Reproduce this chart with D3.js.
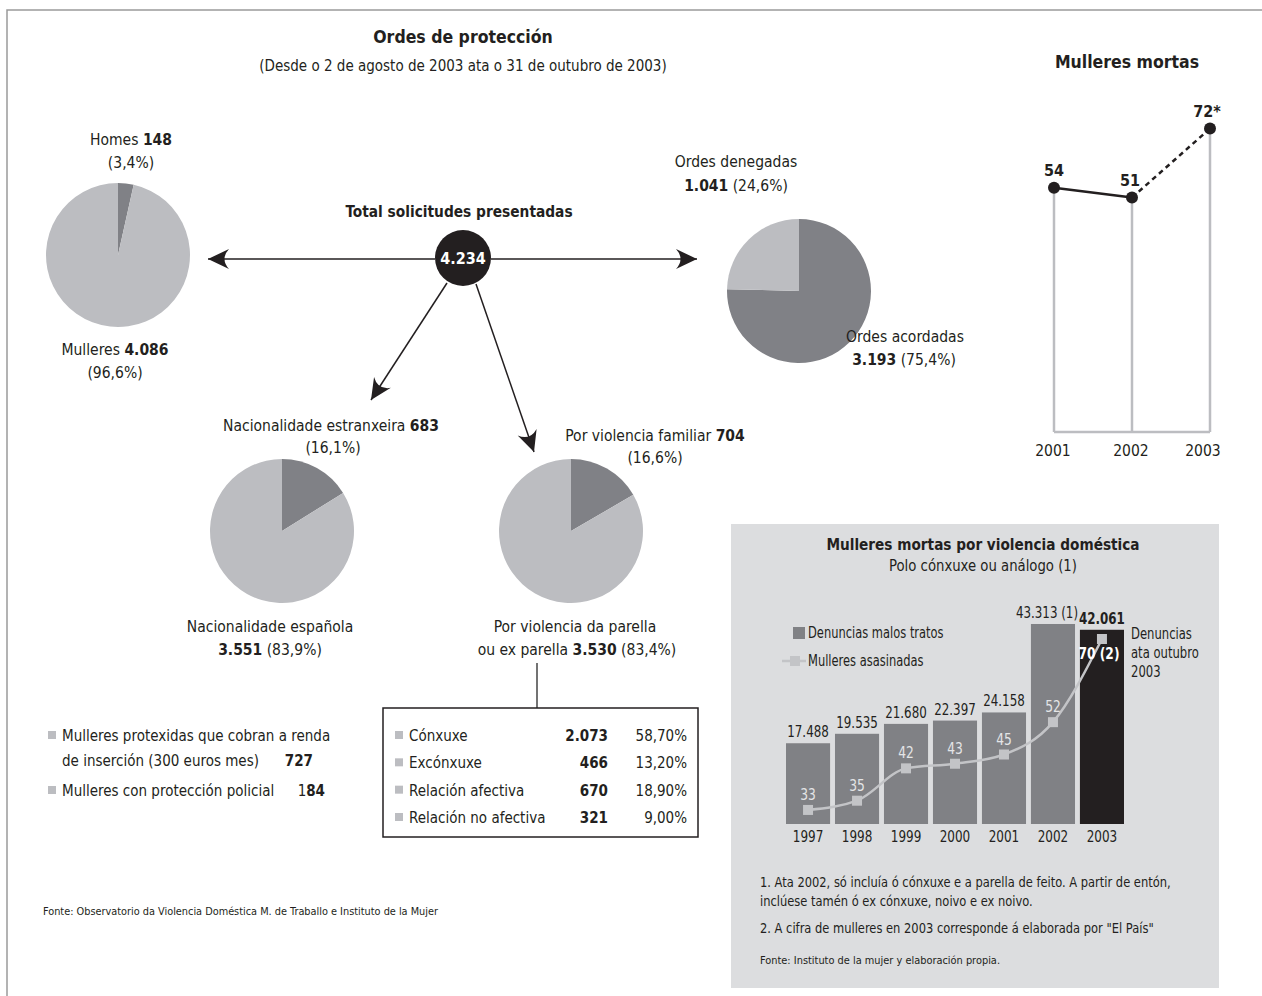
<!DOCTYPE html>
<html>
<head>
<meta charset="utf-8">
<script src="https://cdn.jsdelivr.net/npm/d3@7"></script>
<style>
  body { margin: 0; background: #fff; }
  svg text { font-family: "Liberation Sans Narrow", "DejaVu Sans Condensed", sans-serif; fill: #231f20; }
</style>
</head>
<body>
<div id="chart"></div>
<script>
// --- data ---
const totalSolicitudes = 4234;
const sexoLabels = ["Homes", "Mulleres"];
const sexoValues = [148, 4086];
const sexoPct = ["3,4%", "96,6%"];
const ordesLabels = ["Ordes acordadas", "Ordes denegadas"];
const ordesValues = [3193, 1041];
const ordesPct = ["75,4%", "24,6%"];
const nacLabels = ["Nacionalidade estranxeira", "Nacionalidade española"];
const nacValues = [683, 3551];
const nacPct = ["16,1%", "83,9%"];
const violLabels = ["Por violencia familiar", "Por violencia da parella ou ex parella"];
const violValues = [704, 3530];
const violPct = ["16,6%", "83,4%"];
const relacionLabels = ["Cónxuxe", "Excónxuxe", "Relación afectiva", "Relación no afectiva"];
const relacionValues = [2073, 466, 670, 321];
const relacionPct = ["58,70%", "13,20%", "18,90%", "9,00%"];
const rendaInsercion = 727;
const proteccionPolicial = 184;
const mortasYears = ["2001", "2002", "2003"];
const mortasValues = [54, 51, 72];
const denunciaYears = ["1997", "1998", "1999", "2000", "2001", "2002", "2003"];
const denunciaValues = [17488, 19535, 21680, 22397, 24158, 43313, 42061];
const asasinadasValues = [33, 35, 42, 43, 45, 52, 70];

const width = 1262, height = 996;
const ink = "#231f20", pieDark = "#808186", pieLight = "#bcbdc1", lineGray = "#c3c4c7";
const fmt = d3.formatLocale({decimal: ",", thousands: ".", grouping: [3], currency: ["", ""]}).format(",d");

const svg = d3.select("#chart").append("svg")
    .attr("width", width)
    .attr("height", height);

// rich text helper: parts = [[string, bold], ...]
function rich(g, x, y, parts, anchor = "middle", size = 15.5) {
    const t = g.append("text")
        .attr("x", x).attr("y", y)
        .attr("text-anchor", anchor)
        .attr("font-size", size);
    parts.forEach(([s, b]) => t.append("tspan").attr("font-weight", b ? "bold" : null).text(s));
    return t;
}
// narrow the glyphs a bit, the original uses a condensed face
function squeeze(sel, k) {
    sel.each(function() {
        const len = this.getComputedTextLength();
        d3.select(this).attr("textLength", len * k).attr("lengthAdjust", "spacingAndGlyphs");
    });
    return sel;
}

// frame
svg.append("path")
    .attr("d", "M7,996 V10 H1262")
    .attr("fill", "none")
    .attr("stroke", "#9a9a9a")
    .attr("stroke-width", 1.5);

// titles
rich(svg, 463, 43, [["Ordes de protección", true]], "middle", 17.5);
rich(svg, 463, 71, [["(Desde o 2 de agosto de 2003 ata o 31 de outubro de 2003)"]], "middle", 15);
rich(svg, 1127, 68, [["Mulleres mortas", true]], "middle", 17.5);

// arrows
svg.append("defs").append("marker")
    .attr("id", "arrow")
    .attr("viewBox", "-22 -11 24 22")
    .attr("refX", 0).attr("refY", 0)
    .attr("markerWidth", 24).attr("markerHeight", 22)
    .attr("markerUnits", "userSpaceOnUse")
    .attr("orient", "auto")
    .append("path")
    .attr("d", "M0,0 L-21,-10 Q-12,0 -21,10 Z")
    .attr("fill", ink);

[[435, 259, 208, 259], [491, 259, 697, 259], [447, 283, 371, 400], [476, 284, 534, 452]].forEach(a => {
    svg.append("line")
        .attr("x1", a[0]).attr("y1", a[1]).attr("x2", a[2]).attr("y2", a[3])
        .attr("stroke", ink).attr("stroke-width", 1.5)
        .attr("marker-end", "url(#arrow)");
});

rich(svg, 459, 217, [["Total solicitudes presentadas", true]], "middle", 15.3);
svg.append("circle").attr("cx", 463).attr("cy", 258).attr("r", 28).attr("fill", ink);
rich(svg, 463, 264, [[fmt(totalSolicitudes), true]], "middle", 16).style("fill", "#fff");

// pies
const pie = d3.pie().sort(null);
const arc = d3.arc().innerRadius(0).outerRadius(72);
function drawPie(cx, cy, values) {
    svg.append("g")
        .attr("transform", `translate(${cx},${cy})`)
        .selectAll("path")
        .data(pie(values))
        .join("path")
        .attr("d", arc)
        .attr("fill", (d, i) => i === 0 ? pieDark : pieLight);
}
drawPie(118, 255, sexoValues);
drawPie(799, 291, ordesValues);
drawPie(282, 531, nacValues);
drawPie(571, 531, violValues);

// pie labels
rich(svg, 131, 145, [[sexoLabels[0] + " "], [fmt(sexoValues[0]), true]]);
rich(svg, 131, 168, [[`(${sexoPct[0]})`]]);
rich(svg, 115, 355, [[sexoLabels[1] + " "], [fmt(sexoValues[1]), true]]);
rich(svg, 115, 378, [[`(${sexoPct[1]})`]]);

rich(svg, 736, 167, [[ordesLabels[1]]]);
rich(svg, 736, 191, [[fmt(ordesValues[1]), true], [` (${ordesPct[1]})`]]);
rich(svg, 905, 342, [[ordesLabels[0]]]);
rich(svg, 904, 365, [[fmt(ordesValues[0]), true], [` (${ordesPct[0]})`]]);

rich(svg, 331, 431, [[nacLabels[0] + " "], [fmt(nacValues[0]), true]]);
rich(svg, 333, 453, [[`(${nacPct[0]})`]]);
rich(svg, 270, 632, [[nacLabels[1]]]);
rich(svg, 270, 655, [[fmt(nacValues[1]), true], [` (${nacPct[1]})`]]);

const violLine = violLabels[1].split(" ou ");
rich(svg, 655, 441, [[violLabels[0] + " "], [fmt(violValues[0]), true]]);
rich(svg, 655, 463, [[`(${violPct[0]})`]]);
rich(svg, 575, 632, [[violLine[0]]]);
rich(svg, 577, 655, [["ou " + violLine[1] + " "], [fmt(violValues[1]), true], [` (${violPct[1]})`]]);

// breakdown box
svg.append("line")
    .attr("x1", 537).attr("y1", 663).attr("x2", 537).attr("y2", 708)
    .attr("stroke", "#444").attr("stroke-width", 1.5);
svg.append("rect")
    .attr("x", 383).attr("y", 708).attr("width", 315).attr("height", 129)
    .attr("fill", "none").attr("stroke", ink).attr("stroke-width", 1.5);

const rowY = d3.scalePoint().domain(relacionLabels).range([741, 823]);
const rows = svg.append("g").selectAll("g")
    .data(relacionLabels)
    .join("g")
    .attr("transform", d => `translate(0,${rowY(d)})`);
rows.append("rect").attr("x", 395).attr("y", -10).attr("width", 8).attr("height", 8).attr("fill", pieLight);
rows.append("text").attr("x", 409).attr("font-size", 15).text(d => d);
rows.append("text").attr("x", 608).attr("text-anchor", "end").attr("font-size", 15)
    .attr("font-weight", "bold").text((d, i) => fmt(relacionValues[i]));
rows.append("text").attr("x", 687).attr("text-anchor", "end").attr("font-size", 15)
    .text((d, i) => relacionPct[i]);

// left notes
[741, 796].forEach(y => {
    svg.append("rect").attr("x", 48).attr("y", y - 10).attr("width", 8).attr("height", 8).attr("fill", pieLight);
});
rich(svg, 62, 741, [["Mulleres protexidas que cobran a renda"]], "start", 15);
rich(svg, 62, 766, [["de inserción (300 euros mes)"]], "start", 15);
rich(svg, 313, 766, [[fmt(rendaInsercion), true]], "end", 15);
rich(svg, 62, 796, [["Mulleres con protección policial"]], "start", 15);
rich(svg, 325, 796, [[String(proteccionPolicial).slice(0, 1)], [String(proteccionPolicial).slice(1), true]], "end", 15);

rich(svg, 43, 915, [["Fonte: Observatorio da Violencia Doméstica M. de Traballo e Instituto de la Mujer"]], "start", 11)
    .attr("textLength", 395).attr("lengthAdjust", "spacingAndGlyphs");

// Mulleres mortas
const xM = d3.scalePoint().domain(mortasYears).range([1054, 1210]);
const yM = d3.scaleLinear().domain([45, 75]).range([217.3, 118.7]);
const baseM = 432;
const gM = svg.append("g");
gM.selectAll(".stem").data(mortasValues).join("line")
    .attr("x1", (d, i) => xM(mortasYears[i])).attr("x2", (d, i) => xM(mortasYears[i]))
    .attr("y1", d => yM(d)).attr("y2", baseM)
    .attr("stroke", pieLight).attr("stroke-width", 2.5);
gM.append("line")
    .attr("x1", xM(mortasYears[0])).attr("x2", xM(mortasYears[2]))
    .attr("y1", baseM).attr("y2", baseM)
    .attr("stroke", pieLight).attr("stroke-width", 2.5);
const lineM = d3.line().x(d => xM(d.year)).y(d => yM(d.v));
const ptsM = mortasYears.map((y, i) => ({year: y, v: mortasValues[i]}));
gM.append("path").datum(ptsM.slice(0, 2)).attr("d", lineM)
    .attr("fill", "none").attr("stroke", ink).attr("stroke-width", 2.5);
gM.append("path").datum(ptsM.slice(1)).attr("d", lineM)
    .attr("fill", "none").attr("stroke", ink).attr("stroke-width", 2.5).attr("stroke-dasharray", "5,4");
gM.selectAll("circle").data(ptsM).join("circle")
    .attr("cx", d => xM(d.year)).attr("cy", d => yM(d.v)).attr("r", 6).attr("fill", ink);
const mDx = [0, -2, -3];
gM.selectAll(".val").data(ptsM).join("text")
    .attr("x", (d, i) => xM(d.year) + mDx[i]).attr("y", d => yM(d.v) - 12)
    .attr("text-anchor", "middle").attr("font-size", 16).attr("font-weight", "bold")
    .text((d, i) => i === 2 ? d.v + "*" : d.v);
gM.selectAll(".yr").data(mortasYears).join("text")
    .attr("x", (d, i) => xM(d) + [-1, -1, -7][i]).attr("y", 456)
    .attr("text-anchor", "middle").attr("font-size", 15.5).text(d => d);

// gray panel
svg.append("rect").attr("x", 731).attr("y", 524).attr("width", 488).attr("height", 464).attr("fill", "#dcdddf");
squeeze(rich(svg, 983, 550, [["Mulleres mortas por violencia doméstica", true]], "middle", 16.5), 0.92);
squeeze(rich(svg, 983, 571, [["Polo cónxuxe ou análogo (1)"]], "middle", 16), 0.92);

const xB = d3.scaleBand().domain(denunciaYears).range([786, 1124]).paddingInner(0.1);
const yB = d3.scaleLinear().domain([0, 45000]).range([824, 616.2]);
const yL = d3.scaleLinear().domain([30, 70]).range([823.8, 639]);
const cx = d => xB(d) + xB.bandwidth() / 2;

const gB = svg.append("g");
gB.selectAll("rect").data(denunciaValues).join("rect")
    .attr("x", (d, i) => xB(denunciaYears[i]))
    .attr("y", d => yB(d))
    .attr("width", xB.bandwidth())
    .attr("height", d => yB(0) - yB(d))
    .attr("fill", (d, i) => i === denunciaValues.length - 1 ? ink : "#808185");
squeeze(gB.selectAll(".bl").data(denunciaValues).join("text")
    .attr("x", (d, i) => cx(denunciaYears[i]) + (i === 5 ? -6 : 0))
    .attr("y", d => yB(d) - 6)
    .attr("text-anchor", "middle").attr("font-size", 15)
    .attr("font-weight", (d, i) => i === 6 ? "bold" : null)
    .text((d, i) => i === 5 ? fmt(d) + " (1)" : fmt(d)), 0.88);
squeeze(gB.selectAll(".yl").data(denunciaYears).join("text")
    .attr("x", d => cx(d))
    .attr("y", 842)
    .attr("text-anchor", "middle").attr("font-size", 15.5)
    .text(d => d), 0.86);

const ptsL = denunciaYears.map((y, i) => ({year: y, v: asasinadasValues[i]}));
const lineL = d3.line()
    .x(d => cx(d.year))
    .y(d => yL(d.v))
    .curve(d3.curveMonotoneX);
gB.append("path").datum(ptsL).attr("d", lineL)
    .attr("fill", "none").attr("stroke", lineGray).attr("stroke-width", 2.5);
gB.selectAll(".mk").data(ptsL).join("rect")
    .attr("x", d => cx(d.year) - 5)
    .attr("y", d => yL(d.v) - 5)
    .attr("width", 10).attr("height", 10)
    .attr("fill", lineGray);
squeeze(gB.selectAll(".ml").data(ptsL).join("text")
    .attr("x", (d, i) => cx(d.year) + (i === 6 ? -3 : 0))
    .attr("y", (d, i) => i === 6 ? yL(d.v) + 20 : yL(d.v) - 10)
    .attr("text-anchor", "middle").attr("font-size", 15.5)
    .attr("font-weight", (d, i) => i === 6 ? "bold" : null)
    .style("fill", (d, i) => i === 6 ? "#fff" : "#e4e5e7")
    .text((d, i) => i === 6 ? d.v + " (2)" : d.v), 0.88);

// legend
svg.append("rect").attr("x", 793).attr("y", 627).attr("width", 12).attr("height", 12).attr("fill", "#808185");
squeeze(rich(svg, 808, 638, [["Denuncias malos tratos"]], "start", 15), 0.85);
svg.append("line").attr("x1", 782).attr("x2", 806).attr("y1", 661).attr("y2", 661)
    .attr("stroke", lineGray).attr("stroke-width", 2.5);
svg.append("rect").attr("x", 790).attr("y", 656).attr("width", 10).attr("height", 10).attr("fill", lineGray);
squeeze(rich(svg, 808, 666, [["Mulleres asasinadas"]], "start", 15), 0.85);

["Denuncias", "ata outubro", "2003"].forEach((s, i) =>
    squeeze(rich(svg, 1131, 639 + i * 19, [[s]], "start", 15), 0.86));

// footnotes
[["1. Ata 2002, só incluía ó cónxuxe e a parella de feito. A partir de entón,", 887],
 ["inclúese tamén ó ex cónxuxe, noivo e ex noivo.", 906],
 ["2. A cifra de mulleres en 2003 corresponde á elaborada por \"El País\"", 933]]
    .forEach(([s, y]) => squeeze(rich(svg, 760, y, [[s]], "start", 14.5), 0.88));
rich(svg, 760, 964, [["Fonte: Instituto de la mujer y elaboración propia."]], "start", 10.5)
    .attr("textLength", 240).attr("lengthAdjust", "spacingAndGlyphs");
</script>
</body>
</html>
